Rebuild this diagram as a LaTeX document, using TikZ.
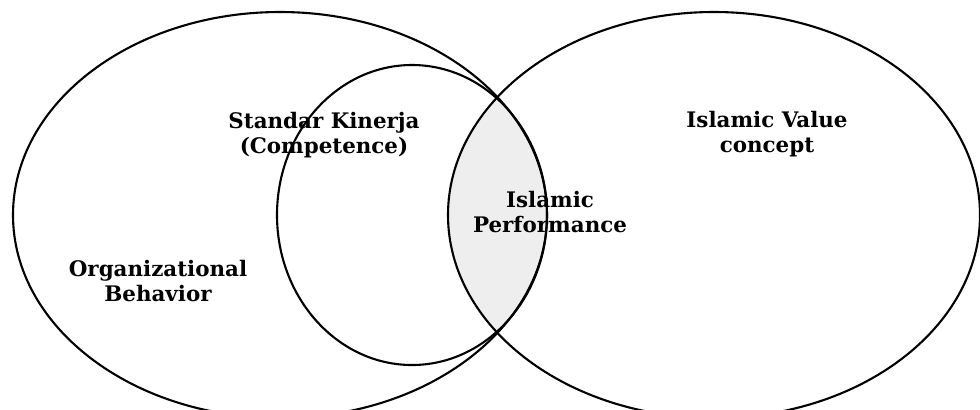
\documentclass[tikz,border=0pt]{standalone}
\usepackage{fontspec}
\setmainfont{DejaVu Serif}

\newcommand*{\lcx}{280}
\newcommand*{\rcx}{714}
\newcommand*{\icx}{412}
\newcommand*{\midy}{215}

\begin{document}
\begin{tikzpicture}
[
	x=0.5pt, y=-0.5pt,
	venn/.style={line width=1.05pt},
	label/.style={align=center, font=\fontsize{10.7}{12.5}\selectfont\bfseries, inner sep=0pt}
]

	\useasboundingbox (0,0) rectangle (980,409);

	% shaded overlap
	\begin{scope}
		\clip (\rcx,\midy) ellipse [x radius=266, y radius=203];
		\fill[gray!13] (\lcx,\midy) ellipse [x radius=267, y radius=203];
	\end{scope}

	% circles
	\draw[venn] (\lcx,\midy) ellipse [x radius=267, y radius=203];
	\draw[venn] (\rcx,\midy) ellipse [x radius=266, y radius=203];
	\draw[venn] (\icx,\midy) ellipse [x radius=135, y radius=150];

	% labels
	\node[label] (org) at (158,281) {Organizational\\Behavior};
	\node[label] (std) at (324,135) {Standar Kinerja\\(Competence)};
	\node[label] (perf) at (550,212) {Islamic\\Performance};
	\node[label] (val) at (767,134) {Islamic Value\\concept};

\end{tikzpicture}
\end{document}
